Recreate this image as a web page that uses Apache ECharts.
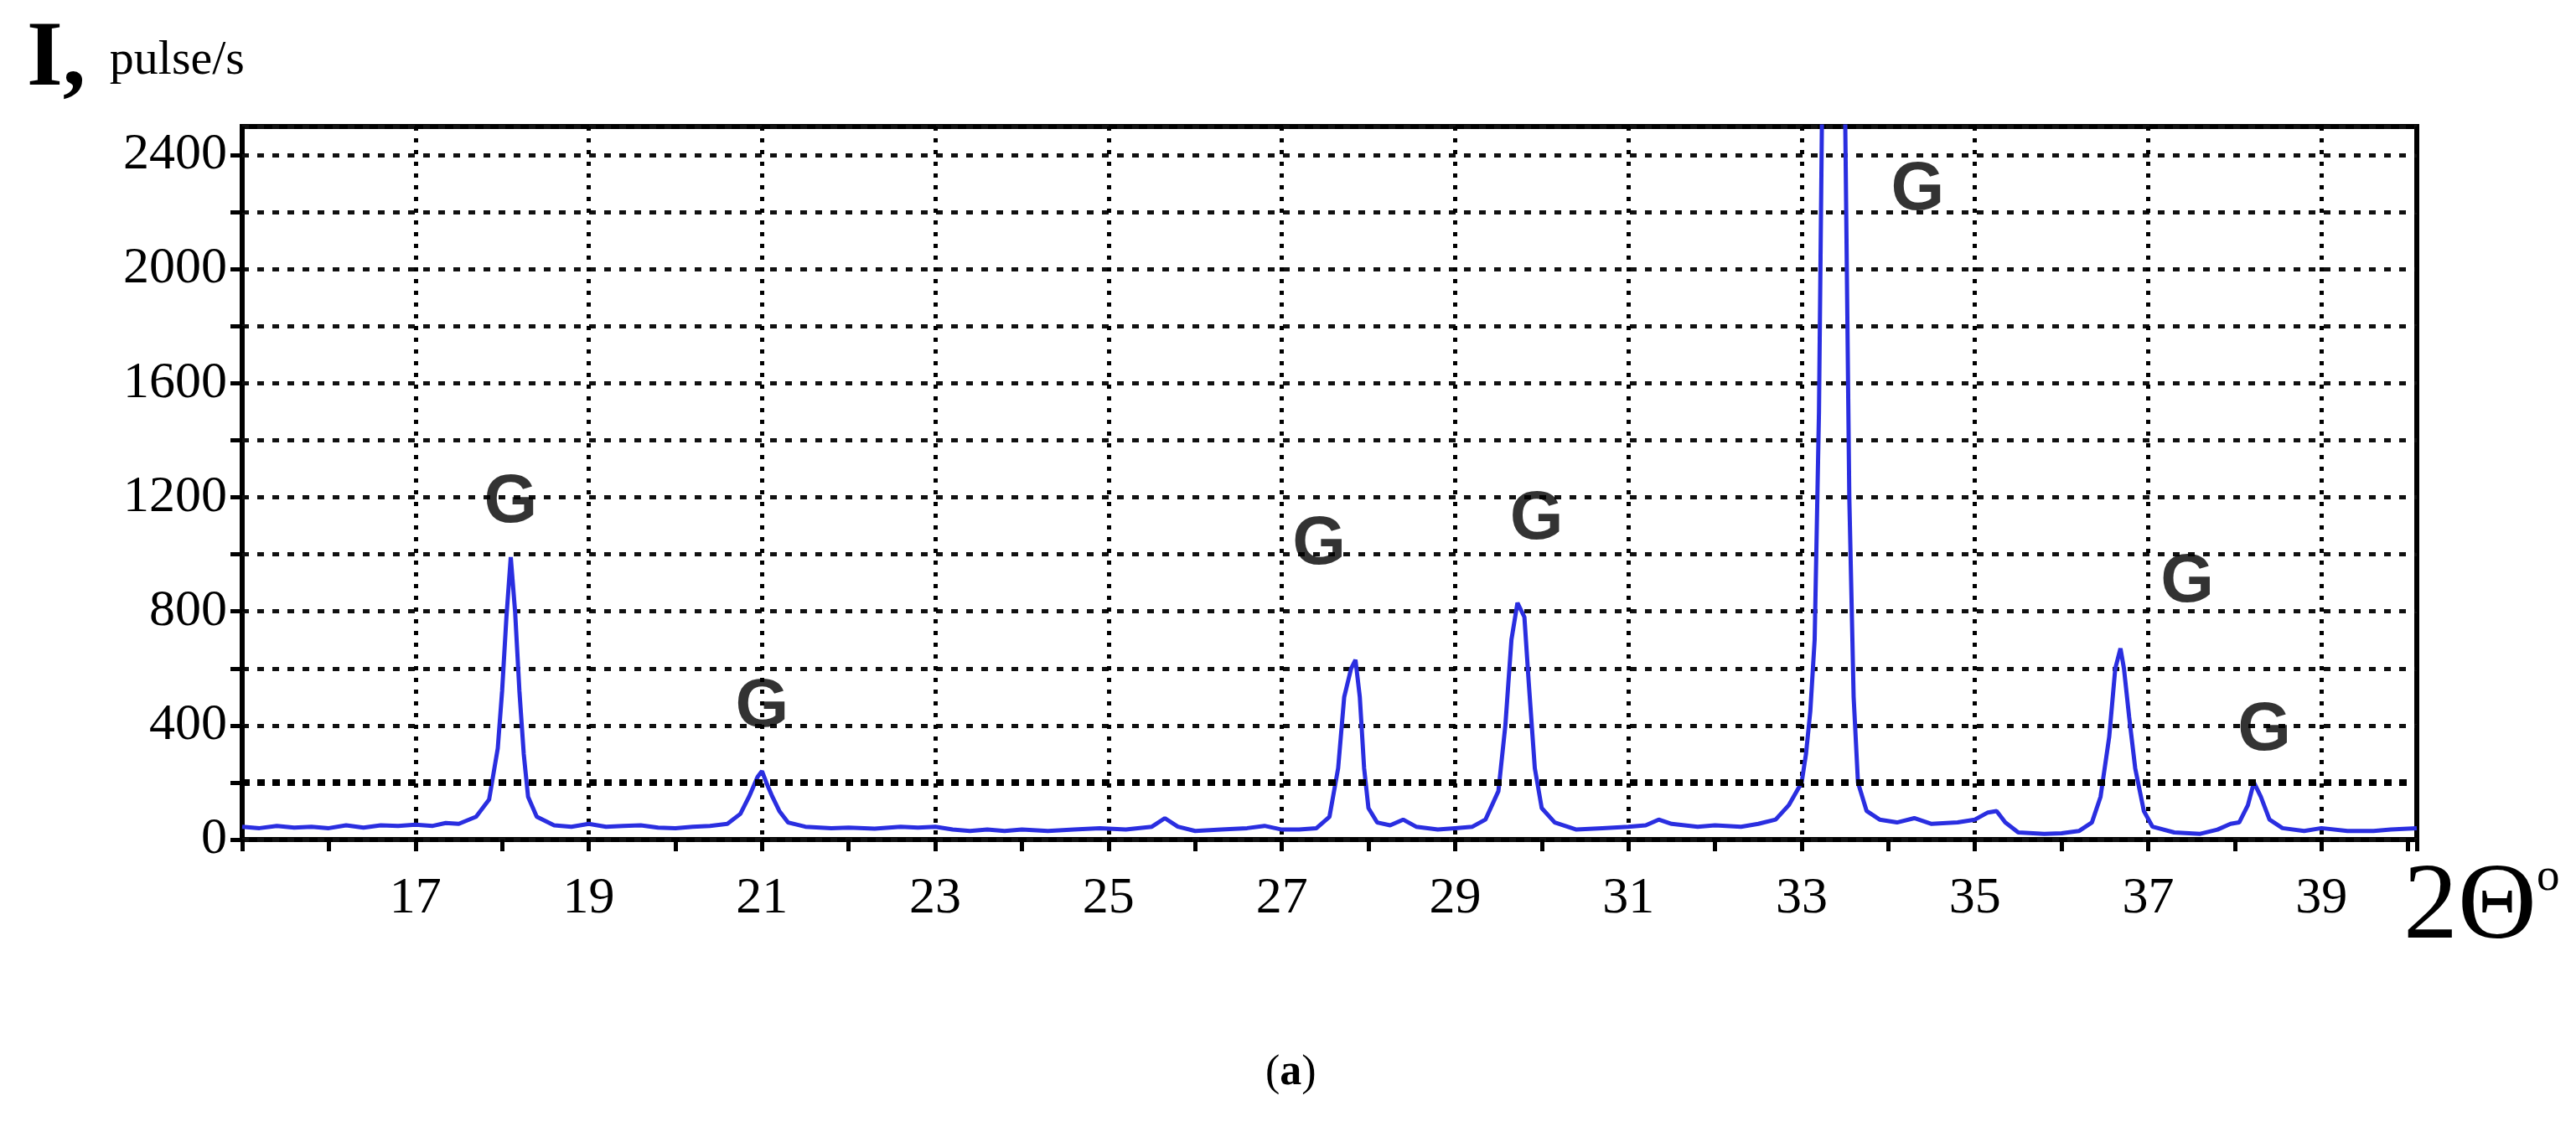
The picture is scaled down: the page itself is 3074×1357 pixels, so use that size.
<!DOCTYPE html>
<html><head><meta charset="utf-8">
<script src="https://cdn.jsdelivr.net/npm/echarts@6/dist/echarts.min.js"></script>
<style>html,body{margin:0;padding:0;background:#fff}#c{width:3074px;height:1357px}</style>
</head><body><div id="c"></div>
<script>
const xTicks = [17,19,21,23,25,27,29,31,33,35,37,39];
const yTicks = [0,400,800,1200,1600,2000,2400];
const twoTheta = [15.0,15.2,15.4,15.6,15.8,16.0,16.2,16.4,16.6,16.8,17.0,17.2,17.35,17.5,17.7,17.85,17.95,18.0,18.05,18.1,18.15,18.2,18.25,18.3,18.4,18.6,18.8,19.0,19.2,19.4,19.6,19.8,20.0,20.2,20.4,20.6,20.75,20.85,20.95,21.0,21.05,21.12,21.2,21.3,21.5,21.8,22.0,22.3,22.6,22.8,23.0,23.2,23.4,23.6,23.8,24.0,24.3,24.6,24.9,25.2,25.5,25.65,25.8,26.0,26.3,26.6,26.8,27.0,27.2,27.4,27.55,27.65,27.72,27.8,27.85,27.9,27.95,28.0,28.1,28.25,28.4,28.55,28.8,29.0,29.2,29.35,29.5,29.58,29.65,29.72,29.8,29.85,29.92,30.0,30.15,30.4,30.7,31.0,31.2,31.35,31.5,31.8,32.0,32.3,32.5,32.7,32.85,33.0,33.05,33.1,33.15,33.2,33.25,33.3,33.45,33.5,33.55,33.6,33.65,33.75,33.9,34.1,34.3,34.5,34.8,35.0,35.15,35.25,35.35,35.5,35.8,36.0,36.2,36.35,36.45,36.55,36.62,36.68,36.72,36.78,36.85,36.95,37.05,37.3,37.6,37.8,37.95,38.05,38.15,38.22,38.3,38.4,38.55,38.8,39.0,39.3,39.6,39.8,40.1];
const intensity = [45,40,48,42,45,40,50,42,50,48,52,48,58,55,80,140,320,520,780,990,800,520,300,150,80,50,45,55,45,48,50,42,40,45,48,55,90,150,220,240,200,150,100,60,45,40,42,38,45,42,45,35,30,35,30,35,30,35,40,35,45,75,45,30,35,40,48,35,35,40,80,250,500,600,630,500,250,110,60,50,70,45,35,40,45,70,170,400,700,830,780,550,250,110,60,35,40,45,50,70,55,45,50,45,55,70,120,200,300,450,700,1500,3000,3500,3500,2600,1200,500,200,100,70,60,75,55,60,70,95,100,60,25,20,22,30,60,150,360,600,670,600,430,250,100,45,25,20,35,55,60,120,200,150,70,40,30,40,30,30,35,40];
const peakLabelX = [18.1,21.0,27.43,29.94,34.34,37.45,38.34];
const peakLabelY = [1180,463,1032,1122,2277,900,380];
const peakLabels = ['G','G','G','G','G','G','G'];

const data = twoTheta.map((x,i)=>[x,intensity[i]]);
const labelData = peakLabelX.map((x,i)=>[x,peakLabelY[i],peakLabels[i]]);
const chart = echarts.init(document.getElementById('c'));
const serif = '"Liberation Serif","Times New Roman",serif';
chart.setOption({
  animation:false,
  grid:{left:289,right:190,top:151,bottom:355,show:true,borderColor:'#000',borderWidth:6,backgroundColor:'transparent'},
  xAxis:{type:'value',min:15,max:40.1,interval:2,
    axisLine:{show:false},
    axisTick:{show:true,length:14,lineStyle:{color:'#000',width:5}},
    minorTick:{show:true,splitNumber:2,length:14,lineStyle:{color:'#000',width:5}},
    splitLine:{show:true,lineStyle:{color:'#000',type:[5,9],width:5}},
    axisLabel:{margin:40,fontFamily:serif,fontSize:62,color:'#000',showMinLabel:false,showMaxLabel:false,
      formatter:v=>xTicks.includes(Math.round(v))?String(Math.round(v)):''}},
  yAxis:{type:'value',min:0,max:2500,interval:200,
    axisLine:{show:false},
    axisTick:{show:true,length:14,lineStyle:{color:'#000',width:5}},
    splitLine:{show:true,lineStyle:{color:'#111',type:[8,10],width:5}},
    axisLabel:{margin:18,fontFamily:serif,fontSize:62,color:'#000',showMaxLabel:false,
      formatter:v=>yTicks.includes(v)?String(v):''}},
  series:[
    {type:'line',data:data,showSymbol:false,clip:true,
      lineStyle:{color:'#2a2ee0',width:5},
      markLine:{silent:true,symbol:'none',label:{show:false},
        lineStyle:{color:'#000',type:[9,9],width:8},data:[{yAxis:200}]}},
    {type:'scatter',data:labelData,symbolSize:0,
      label:{show:true,position:'inside',formatter:p=>p.data[2],
        fontFamily:'"Liberation Sans",Arial,sans-serif',fontWeight:'bold',fontSize:82,color:'#000',textBorderWidth:0}}
  ],
  graphic:[
    {type:'text',left:32,top:18,style:{text:'{b|I,}{s| pulse/s}',
      rich:{b:{fontFamily:serif,fontWeight:'bold',fontSize:110,fill:'#000',padding:[0,14,0,0]},
            s:{fontFamily:serif,fontSize:58,fill:'#000'}}}},
    {type:'text',left:2868,top:1020,style:{text:'{m|2Θ}{o|o}',
      rich:{m:{fontFamily:serif,fontSize:130,fill:'#000'},
            o:{fontFamily:serif,fontSize:55,fill:'#000',verticalAlign:'top',padding:[0,0,60,0]}}}},
    {type:'text',left:1510,top:1255,style:{text:'({a|a})',fontFamily:serif,fontSize:52,fill:'#000',
      rich:{a:{fontFamily:serif,fontWeight:'bold',fontSize:52,fill:'#000'}}}}
  ]
});
</script></body></html>
